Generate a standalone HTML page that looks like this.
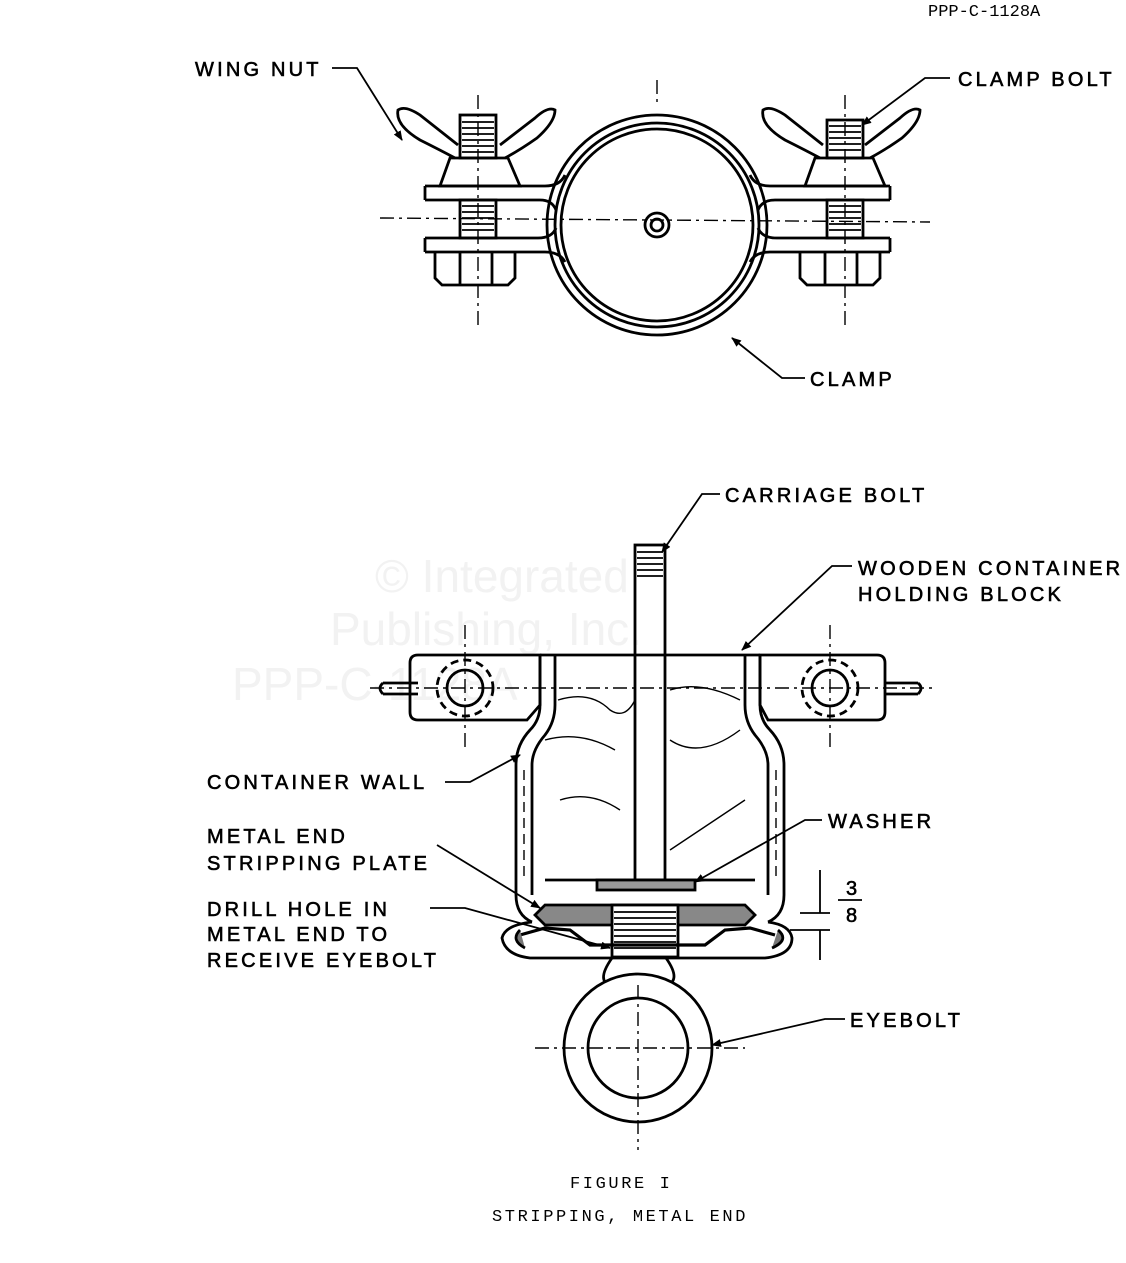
<!DOCTYPE html>
<html><head><meta charset="utf-8"><style>
html,body{margin:0;padding:0;background:#fff}
svg{display:block}
.l{font-family:"Liberation Sans",sans-serif;font-size:20px;letter-spacing:3.2px;fill:#000;stroke:#000;stroke-width:0.6}
.m{font-family:"Liberation Mono",monospace;font-size:17px;fill:#000}
.w{font-family:"Liberation Sans",sans-serif;font-size:46px;fill:#f2f2f2}
</style></head><body>
<svg width="1126" height="1263" viewBox="0 0 1126 1263" xmlns="http://www.w3.org/2000/svg">
<defs><marker id="a" markerWidth="10" markerHeight="8" refX="9" refY="4" orient="auto" markerUnits="userSpaceOnUse"><path d="M0,0 L10,4 L0,8 Z" fill="#000"/></marker></defs>
<g fill="none" stroke="#000" stroke-width="2.8">
<text class="m" x="928" y="16" stroke="none">PPP-C-1128A</text>
<text class="w" x="375" y="592" stroke="none">© Integrated</text>
<text class="w" x="330" y="645" stroke="none">Publishing, Inc.</text>
<text class="w" x="232" y="700" stroke="none">PPP-C-1128A</text>

<circle cx="657" cy="225" r="110"/>
<circle cx="657" cy="225" r="102"/>
<circle cx="657" cy="225" r="96"/>
<circle cx="657" cy="225" r="12"/>
<circle cx="657" cy="225" r="6"/>
<line x1="657" y1="80" x2="657" y2="105" stroke-width="1.4" stroke-dasharray="14,5,3,5"/>
<line x1="380" y1="218" x2="930" y2="222" stroke-width="1.4" stroke-dasharray="14,5,3,5"/>
<path d="M425,186 H545 Q560,186 565,175 M425,200 H540 Q552,200 556,210"/>
<line x1="425" y1="186" x2="425" y2="200"/>
<path d="M425,238 H538 Q552,238 556,228 M425,252 H545 Q560,252 565,262"/>
<line x1="425" y1="238" x2="425" y2="252"/>
<path d="M890,186 H770 Q755,186 750,175 M890,200 H775 Q762,200 758,210"/>
<line x1="890" y1="186" x2="890" y2="200"/>
<path d="M890,238 H777 Q762,238 758,228 M890,252 H770 Q755,252 750,262"/>
<line x1="890" y1="238" x2="890" y2="252"/>
<g>
<path d="M440,186 L450,158 H508 L520,186 Z"/>
<path d="M455,158 Q440,150 420,140 Q395,125 398,110 Q405,105 420,115 L458,145"/>
<path d="M505,158 Q520,150 537,138 Q555,122 555,110 Q548,106 535,118 L500,145"/>
<rect x="460" y="115" width="36" height="43"/>
<path d="M462,122 H494 M462,128 H494 M462,134 H494 M462,140 H494 M462,146 H494 M462,152 H494" stroke-width="1.8"/>
<rect x="460" y="200" width="36" height="38"/>
<path d="M462,206 H494 M462,212 H494 M462,218 H494 M462,224 H494 M462,230 H494" stroke-width="1.8"/>
<path d="M435,252 V278 L442,285 H508 L515,278 V252"/>
<line x1="460" y1="252" x2="460" y2="285"/><line x1="492" y1="252" x2="492" y2="285"/>
<line x1="478" y1="95" x2="478" y2="325" stroke-width="1.4" stroke-dasharray="14,5,3,5"/>
</g>
<g>
<path d="M805,186 L815,158 H873 L885,186 Z"/>
<path d="M820,158 Q805,150 785,140 Q760,125 763,110 Q770,105 785,115 L823,145"/>
<path d="M870,158 Q885,150 902,138 Q920,122 920,110 Q913,106 900,118 L865,145"/>
<rect x="827" y="120" width="36" height="38"/>
<path d="M829,126 H861 M829,132 H861 M829,138 H861 M829,144 H861 M829,150 H861" stroke-width="1.8"/>
<rect x="827" y="200" width="36" height="38"/>
<path d="M829,206 H861 M829,212 H861 M829,218 H861 M829,224 H861 M829,230 H861" stroke-width="1.8"/>
<path d="M800,252 V278 L807,285 H873 L880,278 V252"/>
<line x1="825" y1="252" x2="825" y2="285"/><line x1="857" y1="252" x2="857" y2="285"/>
<line x1="845" y1="95" x2="845" y2="325" stroke-width="1.4" stroke-dasharray="14,5,3,5"/>
</g>
<text class="l" x="195" y="76">WING NUT</text>
<path d="M332,68 H357 L402,140" stroke-width="1.8" marker-end="url(#a)"/>
<text class="l" x="958" y="86">CLAMP BOLT</text>
<path d="M950,78 H925 L862,125" stroke-width="1.8" marker-end="url(#a)"/>
<text class="l" x="810" y="386">CLAMP</text>
<path d="M805,378 H782 L732,338" stroke-width="1.8" marker-end="url(#a)"/>

<path d="M540,655 H418 Q410,655 410,663 V712 Q410,720 418,720 H527 L540,705 Z"/>
<path d="M760,655 H877 Q885,655 885,663 V712 Q885,720 877,720 H768 L760,705 Z"/>
<path d="M383,683 H418 M383,694 H418 M383,683 Q377,688 383,694"/>
<path d="M885,683 H918 M885,694 H918 M918,683 Q924,688 918,694"/>
<circle cx="465" cy="688" r="18"/><circle cx="465" cy="688" r="28" stroke-dasharray="8,5"/>
<circle cx="830" cy="688" r="18"/><circle cx="830" cy="688" r="28" stroke-dasharray="8,5"/>
<line x1="465" y1="625" x2="465" y2="750" stroke-width="1.4" stroke-dasharray="14,5,3,5"/>
<line x1="830" y1="625" x2="830" y2="750" stroke-width="1.4" stroke-dasharray="14,5,3,5"/>
<line x1="370" y1="688" x2="935" y2="688" stroke-width="1.4" stroke-dasharray="14,5,3,5"/>
<line x1="540" y1="655" x2="760" y2="655"/>
<path d="M540,655 V705 Q540,720 530,730 Q516,745 516,765 V895 Q516,915 532,922"/>
<path d="M555,655 V705 Q555,722 545,735 Q532,750 532,765 V895"/>
<path d="M760,655 V705 Q760,720 770,730 Q784,745 784,765 V895 Q784,915 768,922"/>
<path d="M745,655 V705 Q745,722 755,735 Q768,750 768,765 V895"/>
<path d="M524,770 V880 M776,770 V880" stroke-width="1.4" stroke-dasharray="10,6"/>
<path d="M558,700 Q590,690 610,710 Q625,720 635,700 M670,690 Q700,680 740,700 M545,740 Q580,730 615,750 M670,740 Q700,760 740,730 M560,800 Q590,790 620,810 M670,850 Q700,830 745,800" stroke-width="1.4"/>
<line x1="545" y1="880" x2="755" y2="880"/>
<rect x="635" y="545" width="30" height="335"/>
<path d="M637,552 H663 M637,558 H663 M637,564 H663 M637,570 H663 M637,576 H663" stroke-width="1.8"/>
<rect x="597" y="880" width="98" height="10" fill="#999"/>
<path d="M545,905 H745 L755,915 L745,925 H545 L535,915 Z" fill="#888"/>
<rect x="612" y="905" width="66" height="52" fill="#fff"/>
<path d="M614,912 H676 M614,918 H676 M614,924 H676 M614,930 H676 M614,936 H676 M614,942 H676 M614,948 H676" stroke-width="1.8"/>
<path d="M532,922 Q505,925 502,938 Q505,955 530,958 H765 Q792,955 792,938 Q790,925 768,922"/>
<path d="M520,935 L545,928 L570,930 L590,945 H705 L725,930 L750,928 L775,935" stroke-width="3.2"/>
<path d="M520,930 Q510,940 525,948 M778,930 Q790,940 772,948" fill="#777"/>
<circle cx="638" cy="1048" r="74"/>
<circle cx="638" cy="1048" r="50"/>
<path d="M612,958 Q600,975 605,982 M666,958 Q678,975 672,982"/>
<line x1="535" y1="1048" x2="745" y2="1048" stroke-width="1.4" stroke-dasharray="14,5,3,5"/>
<line x1="638" y1="985" x2="638" y2="1150" stroke-width="1.4" stroke-dasharray="14,5,3,5"/>
<path d="M800,913 H830 M790,930 H830 M820,870 V913 M820,930 V960" stroke-width="1.8"/>
<text class="l" x="846" y="895" letter-spacing="0">3</text>
<line x1="838" y1="900" x2="862" y2="900" stroke-width="1.8"/>
<text class="l" x="846" y="922" letter-spacing="0">8</text>
<text class="l" x="725" y="502">CARRIAGE BOLT</text>
<path d="M720,494 H702 L662,552" stroke-width="1.8" marker-end="url(#a)"/>
<text class="l" x="858" y="575">WOODEN CONTAINER</text>
<text class="l" x="858" y="601">HOLDING BLOCK</text>
<path d="M852,566 H832 L742,650" stroke-width="1.8" marker-end="url(#a)"/>
<text class="l" x="207" y="789">CONTAINER WALL</text>
<path d="M445,782 H470 L520,755" stroke-width="1.8" marker-end="url(#a)"/>
<text class="l" x="828" y="828">WASHER</text>
<path d="M822,820 H805 L695,882" stroke-width="1.8" marker-end="url(#a)"/>
<text class="l" x="207" y="843">METAL END</text>
<text class="l" x="207" y="870">STRIPPING PLATE</text>
<path d="M437,845 L540,908" stroke-width="1.8" marker-end="url(#a)"/>
<text class="l" x="207" y="916">DRILL HOLE IN</text>
<text class="l" x="207" y="941">METAL END TO</text>
<text class="l" x="207" y="967">RECEIVE EYEBOLT</text>
<path d="M430,908 H465 L610,948" stroke-width="1.8" marker-end="url(#a)"/>
<text class="l" x="850" y="1027">EYEBOLT</text>
<path d="M845,1019 H825 L712,1045" stroke-width="1.8" marker-end="url(#a)"/>
<text class="m" x="570" y="1188" stroke="none" letter-spacing="2.6">FIGURE I</text>
<text class="m" x="492" y="1221" stroke="none" letter-spacing="2.6">STRIPPING, METAL END</text>
</g>
</svg>
</body></html>
